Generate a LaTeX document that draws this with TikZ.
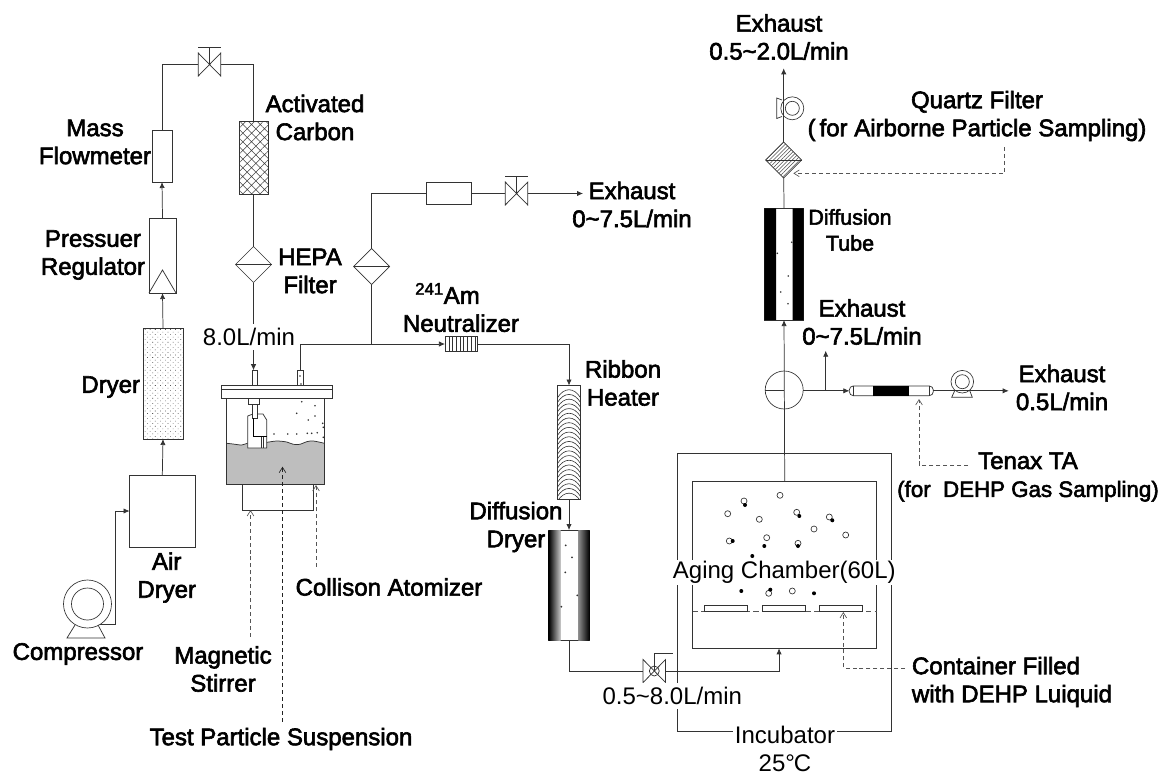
\documentclass[tikz,border=0pt]{standalone}
\usepackage{fontspec}
\setmainfont{Liberation Sans}
\newfontfamily\lblfont[FakeBold=2.5]{Liberation Sans}
\usetikzlibrary{arrows.meta,calc,patterns.meta,shapes.geometric}
\definecolor{pipecol}{HTML}{333333}
\definecolor{leadcol}{HTML}{555555}
\definecolor{liquid}{HTML}{BEBEBE}
\tikzset{
  pipe/.style={draw=pipecol,line width=.55pt},
  lead/.style={draw=leadcol,line width=.5pt,dash pattern=on 3pt off 2.2pt,-{Straight Barb[length=4pt,width=5pt]}},
  boxnode/.style={rectangle,draw=pipecol,line width=.55pt,fill=white,inner sep=0pt,outer sep=0pt},
  filtnode/.style={diamond,aspect=1,draw=pipecol,line width=.5pt,fill=white,inner sep=0pt,outer sep=0pt,minimum width=36pt,minimum height=36pt},
  valvenode/.style={rectangle,inner sep=0pt,outer sep=0pt,minimum width=22.5pt,minimum height=23pt},
  roundnode/.style={circle,draw=pipecol,line width=.5pt,fill=white,inner sep=0pt,outer sep=0pt},
  lbl/.style={font=\lblfont\fontsize{24}{28}\selectfont,align=center,inner sep=0pt},
  lblreg/.style={font=\fontsize{24}{28}\selectfont,align=center,fill=white,inner xsep=0pt,inner ysep=4pt},
}
\begin{document}
\begin{tikzpicture}[>={Latex[length=4.5pt,width=4pt]},x=1pt,y=-1pt,scale=0.75,transform shape]
  \useasboundingbox (0,0) rectangle (1165,775);
  % incubator and chamber
  \node[boxnode,fill=none,minimum width=213.7pt,minimum height=278.4pt] (incubator) at (784.2,592.5) {};
  \node[boxnode,fill=none,minimum width=184pt,minimum height=167pt] (chamber) at (784.7,564.8) {};
  \draw[leadcol,line width=.5pt,dash pattern=on 4pt off 2.5pt] (chamber.west |- 0,611.7) -- (chamber.east |- 0,611.7);
  \foreach \c/\t in {726/cont1,783.5/cont2,841.2/cont3}
    \node[boxnode,minimum width=43pt,minimum height=6.7pt] (\t) at (\c,608.4) {};
  \foreach \p in {(744,501),(727.7,513.7),(780,495.3),(759.3,519.3),(796.7,512.3),(829.3,517),(814,529),(845.7,535),(766.7,537.7),(729.3,541),(798,543.3),(792.3,591),(768.7,593.3)}
    \draw[pipecol,line width=.5pt] \p circle (3);
  \foreach \p in {(745,505),(799.3,516),(832.3,520.3),(732.7,541),(764.3,546),(798,546),(752.3,556),(741.3,591),(770.3,589.7),(814,593.3)}
    \fill[black] \p circle (2);

  % left train
  \node[roundnode,minimum size=48pt] (compressor) at (87.5,604) {};
  \node[roundnode,minimum size=32pt] (compinner) at (compressor.center) {};
  \draw[pipe] (75,625) -- (67,638) -- (105,638) -- (98,625);
  \node[boxnode,minimum width=65.5pt,minimum height=72pt] (airdryer) at (162.3,511) {};
  \node[boxnode,minimum width=40pt,minimum height=111pt,pattern={Dots[distance=2.7pt,radius=.3pt,angle=45]},pattern color=black] (dryer) at (163,383.5) {};
  \node[boxnode,minimum width=27pt,minimum height=75pt] (regulator) at (162.5,255.5) {};
  \draw[pipe] (regulator.south west) -- (162.5,270) -- (regulator.south east);
  \node[boxnode,minimum width=20pt,minimum height=52pt] (flowmeter) at (162,156) {};
  \node[valvenode] (valvetop) at (209.5,64.5) {};
  \node[boxnode,minimum width=29pt,minimum height=73pt,pattern={Hatch[angle=45,distance=4.6pt,line width=.4pt]},pattern color=black!75] (carbon) at (253.5,157.5) {};
  \node[filtnode] (hepa1) at (253.5,264.5) {};
  \node[filtnode] (hepa2) at (371.7,266.5) {};
  \node[boxnode,minimum width=5.5pt,minimum height=15pt] (inlet) at (255,377.7) {};
  \node[boxnode,minimum width=6pt,minimum height=15pt] (outlet) at (300.3,377.7) {};

  % atomizer
  \node[boxnode,minimum width=111.5pt,minimum height=12.6pt] (lid) at (276.7,392) {};
  \draw[pipe] (lid.west |- 0,389) -- (lid.east |- 0,389);
  \fill[liquid] plot[smooth] coordinates {(226.7,443.3) (233,444) (241.7,445) (247.3,443.3) (256.7,442.7) (266.7,442.3) (276.7,441) (286.7,442) (293.3,444.3) (300,444.3) (306.7,441.7) (313.3,441) (324.5,443.3)} -- (324.5,484.5) -- (226.5,484.5) -- cycle;
  \draw[pipe] plot[smooth] coordinates {(226.7,443.3) (233,444) (241.7,445) (247.3,443.3) (256.7,442.7) (266.7,442.3) (276.7,441) (286.7,442) (293.3,444.3) (300,444.3) (306.7,441.7) (313.3,441) (324.5,443.3)};
  \node[boxnode,fill=none,minimum width=98pt,minimum height=86.5pt] (jar) at (275.5,441.25) {};
  \node[boxnode,minimum width=71.5pt,minimum height=25.5pt] (stirrer) at (277.75,497.25) {};
  \draw[pipe,fill=white] (247.7,416) -- (253,414) -- (263,414) -- (266.7,420) -- (266.7,448) -- (247.7,448) -- cycle;
  \node[boxnode,minimum width=11pt,minimum height=6pt] (nozzle1) at (253.5,401) {};
  \node[boxnode,minimum width=5pt,minimum height=14pt] (nozzle2) at (254.5,411) {};
  \draw[black,line width=.9pt] (253.5,418) -- (253.5,436.7) -- (266.7,436.7);
  \draw[pipe] (261,436.7) -- (261,448) (263.5,436.7) -- (263.5,448);
  \foreach \p in {(301.7,401.7),(315,405.7),(296.7,413.3),(308.3,420),(315,416),(274,434),(287.7,434),(296.7,434),(307.3,433.3),(311.7,433.3),(317.3,432.7),(323.3,427.3),(323.3,437.3),(322.7,423.3),(300,376),(301,384)}
    \fill[black!80] \p circle (.9);

  % middle train
  \node[boxnode,minimum width=45pt,minimum height=22pt] (flowbox) at (449.2,193.5) {};
  \node[valvenode] (valveexh) at (516.5,193.5) {};
  \node[boxnode,minimum width=32.5pt,minimum height=15.3pt] (neutralizer) at (461.2,344) {};
  \foreach \x in {449,452.7,...,475}
    \draw[pipe] (\x,336) -- (\x,351);
  \node[boxnode,minimum width=23.4pt,minimum height=113.8pt] (heater) at (569,442.4) {};
  \begin{scope}
    \clip (557.3,385.5) rectangle (580.7,499.3);
    \foreach \y in {388,392.7,...,496}
      \draw[pipe,line width=.45pt] (557.3,\y+10) .. controls (564,\y-1) and (574,\y-1) .. (580.7,\y+10);
  \end{scope}
  \node[boxnode,minimum width=40.6pt,minimum height=110.7pt] (diffdryer) at (569,585.35) {};
  \shade[left color=black,right color=black!20] (548.7,530) rectangle (560.7,640.7);
  \shade[left color=black!45,right color=black] (578.3,530) rectangle (589.3,640.7);
  \foreach \p in {(565.7,545.3),(572,557.3),(565.3,572.3),(577.3,595.3),(561.3,606.7)}
    \fill[black!80] \p circle (1);
  \node[valvenode] (valveaging) at (654.3,671) {};
  \draw[pipe] (654.3,671) circle (5);
  \draw[pipe] (654.3,671) -- (654.3,653.3) -- (672.7,653.3);

  % right train
  \node[roundnode,minimum size=38pt] (splitter) at (784.2,390) {};
  \node[boxnode,minimum width=39.4pt,minimum height=111.7pt] (difftube) at (784,264.2) {};
  \fill[black] (764.3,208.3) rectangle (776,320) (792.7,208.3) rectangle (803.7,320);
  \foreach \p in {(791.7,242.3),(777.3,253.3),(788.3,276),(780.7,292),(788,303.7)}
    \fill[black!80] \p circle (.9);
  \node[filtnode,pattern={Lines[angle=45,distance=2pt,line width=.4pt]},pattern color=black!70] (quartz) at (783.7,160) {};
  \node[roundnode,minimum size=23pt] (pumptop) at (792.3,108.3) {};
  \node[roundnode,minimum size=14pt] (pumptopin) at (pumptop.center) {};
  \draw[pipe] (782,100) -- (776.7,98) -- (776.7,118.5) -- (782,116.5);
  \node[boxnode,rounded corners=3pt,minimum width=84pt,minimum height=9.7pt] (tenax) at (891.3,390.8) {};
  \draw[pipe] (853.3,386) -- (853.3,395.7) (929.3,386) -- (929.3,395.7);
  \fill[black] (873.3,386) rectangle (909,395.7);
  \node[roundnode,minimum size=22.6pt] (pumpright) at (962.3,381.7) {};
  \node[roundnode,minimum size=14pt] (pumprightin) at (pumpright.center) {};
  \draw[pipe] (955,390) -- (951.7,397.3) -- (972.3,397.3) -- (969.5,390);

  \foreach \v in {valvetop,valveexh,valveaging}
    \draw[pipe] (\v.north west) -- (\v.south east) -- (\v.north east) -- (\v.south west) -- cycle;
  \foreach \v in {valvetop,valveexh}
    \draw[pipe] (\v.center) -- ++(0,-17.5) ++(-11.2,0) -- ++(22.4,0);
  \foreach \f in {hepa1,hepa2,quartz}
    \draw[pipe] (\f.west) -- (\f.east);

  % free ends
  \coordinate (jointop) at (371.7,344);
  \coordinate (exhaustmid) at (583,193.5);
  \coordinate (chamberin) at (779,648.3);
  \coordinate (branch) at (825.7,390.8);
  \coordinate (branchend) at (825.7,350.7);
  \coordinate (exhausttop) at (783.7,68.3);
  \coordinate (exhaustright) at (1008.7,390.8);
  \coordinate (leadstir) at (250.5,636.7);
  \coordinate (leadsus) at (282.5,721.7);
  \coordinate (leadsustip) at (282.5,466.7);
  \coordinate (leadato) at (316,566.7);
  \coordinate (leadatotip) at (316,485);
  \coordinate (leadquartz) at (1004.3,147);
  \coordinate (leadquartztip) at (793.3,173.3);
  \coordinate (leadtenax) at (968,465);
  \coordinate (leadtenaxtip) at (919,399);
  \coordinate (leadcont) at (905,668);
  \coordinate (leadconttip) at (843.3,612);

  % connectors
  \draw[pipe,->] (100,624.3) -- (115.5,624.3) |- (airdryer.west);
  \draw[pipe,->] (airdryer.north) -- (dryer.south);
  \draw[pipe,->] (dryer.north) -- (regulator.south);
  \draw[pipe,->] (regulator.north) -- (flowmeter.south);
  \draw[pipe] (flowmeter.north) |- (valvetop.west);
  \draw[pipe] (valvetop.east) -| (carbon.north);
  \draw[pipe] (carbon.south) -- (hepa1.north);
  \draw[pipe,->] (hepa1.south) -- (hepa1.south |- inlet.north);
  \draw[pipe] (outlet.north) |- (jointop);
  \draw[pipe,->] (jointop) -- (neutralizer.west);
  \draw[pipe] (jointop) -- (hepa2.south);
  \draw[pipe] (hepa2.north) |- (flowbox.west);
  \draw[pipe] (flowbox.east) -- (valveexh.west);
  \draw[pipe,->] (valveexh.east) -- (exhaustmid);
  \draw[pipe,->] (neutralizer.east) -| (heater.north);
  \draw[pipe,->] (heater.south) -- (diffdryer.north);
  \draw[pipe] (diffdryer.south) |- (valveaging.west);
  \draw[pipe,->] (valveaging.east) -| (chamberin);
  \draw[pipe,->] (chamber.north) -- (difftube.south);
  \draw[pipe] (splitter.west) -- (splitter.center);
  \draw[pipe] (difftube.north) -- (quartz.south);
  \draw[pipe,->] (quartz.north) -- (exhausttop);
  \draw[pipe,->] (splitter.east |- branch) -- (tenax.west);
  \draw[pipe,->] (branch) -- (branchend);
  \draw[pipe,->] (tenax.east) -- (exhaustright);

  % dashed leaders
  \draw[lead] (leadstir) -- (leadstir |- stirrer.south);
  \draw[lead,leadcol!40!black] (leadsus) -- (leadsustip);
  \draw[lead] (leadato) -- (leadatotip);
  \draw[lead] (leadquartz) |- (leadquartztip);
  \draw[lead] (leadtenax) -| (leadtenaxtip);
  \draw[lead] (leadcont) -| (leadconttip);

  % labels
  \node[lbl] (lblcarbon) at (315,117.5) {Activated\\Carbon};
  \node[lbl] (lblflow) at (95,142) {Mass\\Flowmeter};
  \node[lbl] (lblreg) at (93,255) {Pressuer\\Regulator};
  \node[lbl] (lblhepa) at (310,271) {HEPA\\Filter};
  \node[lbl] (lbldryer) at (110.7,387) {Dryer};
  \node[lbl] (lblair) at (166.7,577.5) {Air\\Dryer};
  \node[lbl] (lblcomp) at (78,654) {Compressor};
  \node[lbl] (lblstir) at (223,669) {Magnetic\\Stirrer};
  \node[lbl] (lblato) at (389,587) {Collison Atomizer};
  \node[lbl] (lblsus) at (281,739) {Test Particle Suspension};
  \node[lbl] (lblam) at (461,307.5) {\hspace*{-27pt}\textsuperscript{241}Am\\Neutralizer};
  \node[lbl] (lblrib) at (623,383) {Ribbon\\Heater};
  \node[lbl] (lblexhmid) at (632,204.5) {Exhaust\\0\textasciitilde7.5L/min};
  \node[lbl] (lbldiffd) at (516,527) {Diffusion\\Dryer};
  \node[lbl,font=\lblfont\fontsize{21.5}{26}\selectfont] (lbldifft) at (850,230) {Diffusion\\Tube};
  \node[lbl] (lblexhtop) at (779,37) {Exhaust\\0.5\textasciitilde2.0L/min};
  \node[lbl] (lblquartz) at (977,116) {Quartz Filter\\(\,for Airborne Particle Sampling)};
  \node[lbl] (lblexhchm) at (862,322) {Exhaust\\0\textasciitilde7.5L/min};
  \node[lbl] (lblexhrgt) at (1062,387.5) {Exhaust\\0.5L/min};
  \node[lbl] (lbltenax) at (1028,477) {Tenax TA\\{\fontsize{22.3}{28}\selectfont(for\ \ DEHP Gas Sampling)}};
  \node[lbl,align=left] (lblcont) at (1012,682) {Container Filled\\with DEHP Luiquid};
  \node[lblreg] (lblrate) at (249,337) {8.0L/min};
  \node[lblreg] (lblrateb) at (672.3,696) {0.5\textasciitilde8.0L/min};
  \node[lblreg,inner ysep=1pt] (lblaging) at (784.3,572.5) {Aging Chamber(60L)};
  \node[lblreg,inner xsep=2pt,inner ysep=0pt] (lblincub) at (785,749) {Incubator\\25°\kern-1pt C};
\end{tikzpicture}
\end{document}
